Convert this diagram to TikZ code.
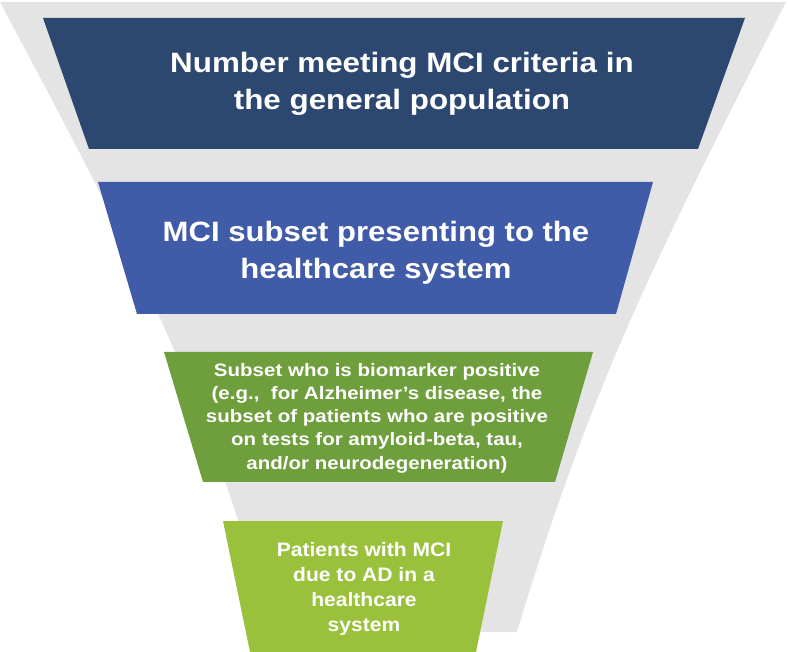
\documentclass[tikz,border=0pt]{standalone}
\usepackage{fontspec}
\setmainfont{Liberation Sans}
\definecolor{funnelgrey}{HTML}{E4E4E4}
\definecolor{boxnavy}{HTML}{2C4770}
\definecolor{boxblue}{HTML}{405BA8}
\definecolor{boxgreen}{HTML}{6F9E3D}
\definecolor{boxlime}{HTML}{9AC13B}
\newcommand{\stretchlines}[2]{\scalebox{#1}[1]{\begin{tabular}{@{}c@{}}#2\end{tabular}}}
\begin{document}
\begin{tikzpicture}[x=1pt,y=-1pt,
  lbl/.style={text=white,align=center,inner sep=0pt}]
\useasboundingbox (0,0) rectangle (788,652);
% funnel
\fill[funnelgrey] (0,2) -- (786,2) .. controls (658.5,252) and (592,382) .. (517,632)
  -- (272,632) .. controls (202,382) and (133,252) .. (0,2) -- cycle;
% boxes
\fill[boxnavy] (43,18) -- (745,18) -- (698,149) -- (89,149) -- cycle;
\fill[boxblue] (98,182) -- (653,182) -- (616,314) -- (137,314) -- cycle;
\fill[boxgreen] (164,352) -- (593,352) -- (555,482) -- (203,482) -- cycle;
\fill[boxlime] (223,521) -- (503,521) -- (476,652) -- (250,652) -- cycle;
% labels
\node[lbl,font=\bfseries\fontsize{28}{37}\selectfont] (t1) at (402,84)
  {\stretchlines{1.12}{Number meeting MCI criteria in\\the general population}};
\node[lbl,font=\bfseries\fontsize{28}{37}\selectfont] (t2) at (376,253)
  {\stretchlines{1.11}{MCI subset presenting to the\\healthcare system}};
\node[lbl,font=\bfseries\fontsize{18}{23.3}\selectfont] (t3) at (377,418)
  {\stretchlines{1.14}{Subset who is biomarker positive\\(e.g.,\ \ for Alzheimer’s disease, the\\subset of patients who are positive\\on tests for amyloid-beta, tau,\\and/or neurodegeneration)}};
\node[lbl,font=\bfseries\fontsize{19.5}{25}\selectfont] (t4) at (364,589)
  {\stretchlines{1.08}{Patients with MCI\\due to AD in a\\healthcare\\system}};
\end{tikzpicture}
\end{document}
